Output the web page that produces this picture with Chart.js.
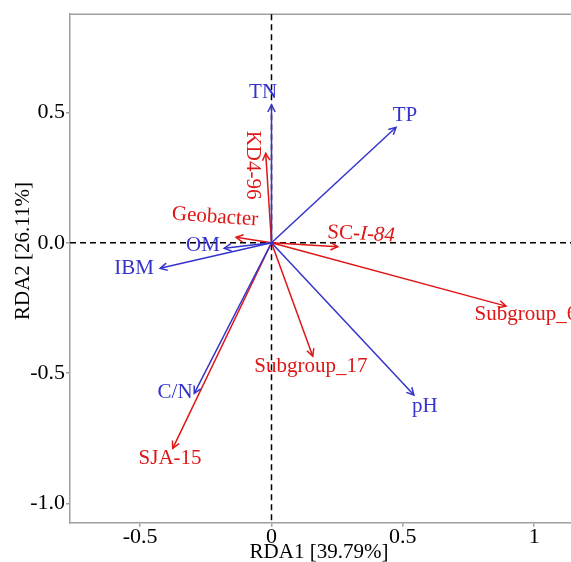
<!DOCTYPE html>
<html>
<head>
<meta charset="utf-8">
<script src="https://cdn.jsdelivr.net/npm/chart.js@4.4.1/dist/chart.umd.min.js"></script>
<style>
  html, body { margin: 0; padding: 0; background: #fff; overflow: hidden; }
  #wrap { width: 571px; height: 562px; overflow: hidden; }
</style>
</head>
<body>
<div id="wrap"><canvas id="rdaChart" width="700" height="562"></canvas></div>
<script>
// RDA biplot: environmental factors (blue) and taxa (red)

// environmental arrows
const envNames = ['TN', 'TP', 'pH', 'C/N', 'IBM', 'OM'];
const envX = [0.0, 0.474, 0.542, -0.294, -0.424, -0.18];
const envY = [0.529, 0.443, -0.584, -0.578, -0.098, -0.021];
const envLabelX = [-0.032, 0.508, 0.584, -0.367, -0.523, -0.261];
const envLabelY = [0.578, 0.49, -0.63, -0.573, -0.097, -0.009];

// taxa arrows
const taxaNames = ['KD4-96', 'Geobacter', 'SC-I-84', 'Subgroup_6', 'Subgroup_17', 'SJA-15'];
const taxaX = [-0.022, -0.135, 0.252, 0.893, 0.157, -0.376];
const taxaY = [0.343, 0.021, -0.015, -0.243, -0.435, -0.789];
const taxaLabelX = [-0.074, -0.215, 0.341, 0.968, 0.150, -0.386];
const taxaLabelY = [0.298, 0.099, 0.033, -0.277, -0.473, -0.826];

// axes
const xTicks = [-0.5, 0, 0.5, 1];
const xTickLabels = ['-0.5', '0', '0.5', '1'];
const yTicks = [-1.0, -0.5, 0.0, 0.5];
const yTickLabels = ['-1.0', '-0.5', '0.0', '0.5'];
const xTitle = 'RDA1 [39.79%]';
const yTitle = 'RDA2 [26.11%]';

const BLUE = 'rgb(52, 52, 204)';
const RED = 'rgb(222, 22, 22)';
const AXIS_GREY = '#a0a0a0';
const FONT = '"Liberation Serif", "Times New Roman", serif';

// label tweaks: rotation in degrees, italic tail
const labelRotation = { 'KD4-96': 90, 'Geobacter': 4, 'SC-I-84': 3 };
const italicTail = { 'SC-I-84': 'I-84' };

function arrowDataset(name, x, y, color) {
    return {
        label: name,
        data: [{ x: 0, y: 0 }, { x: x, y: y }],
        showLine: true,
        borderColor: color,
        backgroundColor: color,
        borderWidth: 1.5,
        pointRadius: 0,
        pointHoverRadius: 0
    };
}

const datasets = [];
envNames.forEach((n, i) => datasets.push(arrowDataset(n, envX[i], envY[i], BLUE)));
taxaNames.forEach((n, i) => datasets.push(arrowDataset(n, taxaX[i], taxaY[i], RED)));

const biplotPlugin = {
    id: 'biplot',
    beforeDatasetsDraw(chart) {
        const { ctx, chartArea: a, scales: { x, y } } = chart;
        ctx.save();
        // top frame line
        ctx.strokeStyle = AXIS_GREY;
        ctx.lineWidth = 1.5;
        ctx.beginPath();
        ctx.moveTo(a.left, a.top);
        ctx.lineTo(a.right, a.top);
        ctx.stroke();
        // dashed zero lines
        ctx.strokeStyle = '#000';
        ctx.lineWidth = 1.5;
        ctx.setLineDash([6, 4]);
        const x0 = x.getPixelForValue(0);
        const y0 = y.getPixelForValue(0);
        ctx.beginPath();
        ctx.moveTo(x0, a.top);
        ctx.lineTo(x0, a.bottom);
        ctx.moveTo(a.left, y0);
        ctx.lineTo(a.right, y0);
        ctx.stroke();
        ctx.restore();
    },
    afterDatasetsDraw(chart) {
        const { ctx, scales: { x, y } } = chart;
        ctx.save();
        // arrow heads
        chart.data.datasets.forEach(ds => {
            const p0 = ds.data[0], p1 = ds.data[1];
            const sx = x.getPixelForValue(p0.x), sy = y.getPixelForValue(p0.y);
            const ex = x.getPixelForValue(p1.x), ey = y.getPixelForValue(p1.y);
            const ang = Math.atan2(ey - sy, ex - sx);
            const len = 8, spread = Math.PI / 6.5;
            ctx.strokeStyle = ds.borderColor;
            ctx.lineWidth = 1.5;
            ctx.beginPath();
            ctx.moveTo(ex - len * Math.cos(ang - spread), ey - len * Math.sin(ang - spread));
            ctx.lineTo(ex, ey);
            ctx.lineTo(ex - len * Math.cos(ang + spread), ey - len * Math.sin(ang + spread));
            ctx.stroke();
        });
        // labels
        const drawLabel = (text, lx, ly, color) => {
            const px = x.getPixelForValue(lx), py = y.getPixelForValue(ly);
            ctx.save();
            ctx.translate(px, py);
            ctx.rotate((labelRotation[text] || 0) * Math.PI / 180);
            ctx.fillStyle = color;
            ctx.textBaseline = 'middle';
            const tail = italicTail[text];
            if (tail) {
                const head = text.slice(0, text.length - tail.length);
                ctx.font = '21px ' + FONT;
                const w1 = ctx.measureText(head).width;
                ctx.font = 'italic 21px ' + FONT;
                const w2 = ctx.measureText(tail).width;
                const start = -(w1 + w2) / 2;
                ctx.textAlign = 'left';
                ctx.font = '21px ' + FONT;
                ctx.fillText(head, start, 0);
                ctx.font = 'italic 21px ' + FONT;
                ctx.fillText(tail, start + w1, 0);
            } else {
                ctx.font = '21px ' + FONT;
                ctx.textAlign = 'center';
                ctx.fillText(text, 0, 0);
            }
            ctx.restore();
        };
        envNames.forEach((n, i) => drawLabel(n, envLabelX[i], envLabelY[i], BLUE));
        taxaNames.forEach((n, i) => drawLabel(n, taxaLabelX[i], taxaLabelY[i], RED));
        ctx.restore();
    },
    afterDraw(chart) {
        const { ctx } = chart;
        ctx.save();
        ctx.fillStyle = '#000';
        ctx.font = '21px ' + FONT;
        ctx.textAlign = 'center';
        ctx.textBaseline = 'middle';
        ctx.fillText(xTitle, 319, 552);
        ctx.translate(23, 251);
        ctx.rotate(-Math.PI / 2);
        ctx.fillText(yTitle, 0, 0);
        ctx.restore();
    }
};

new Chart(document.getElementById('rdaChart'), {
    type: 'scatter',
    data: { datasets: datasets },
    options: {
        responsive: false,
        animation: false,
        devicePixelRatio: 1,
        layout: { padding: 0 },
        plugins: { legend: { display: false }, tooltip: { enabled: false } },
        scales: {
            x: {
                type: 'linear',
                min: -0.767,
                max: 1.631,
                afterFit(s) { s.height = 39.3; },
                afterBuildTicks(s) { s.ticks = xTicks.map(v => ({ value: v })); },
                ticks: {
                    color: '#000',
                    font: { family: FONT, size: 22 },
                    padding: -3,
                    maxRotation: 0,
                    callback: (v) => xTickLabels[xTicks.indexOf(v)]
                },
                grid: { display: true, drawOnChartArea: false, drawTicks: true, tickLength: 4, color: AXIS_GREY, lineWidth: 1.5 },
                border: { display: true, color: AXIS_GREY, width: 1.5 }
            },
            y: {
                type: 'linear',
                min: -1.074,
                max: 0.877,
                afterFit(s) { s.width = 70; },
                afterBuildTicks(s) { s.ticks = yTicks.map(v => ({ value: v })); },
                ticks: {
                    color: '#000',
                    font: { family: FONT, size: 22 },
                    padding: 1,
                    callback: (v) => yTickLabels[yTicks.indexOf(v)]
                },
                grid: { display: true, drawOnChartArea: false, drawTicks: true, tickLength: 4, color: AXIS_GREY, lineWidth: 1.5 },
                border: { display: true, color: AXIS_GREY, width: 1.5 }
            }
        }
    },
    plugins: [biplotPlugin]
});
</script>
</body>
</html>
